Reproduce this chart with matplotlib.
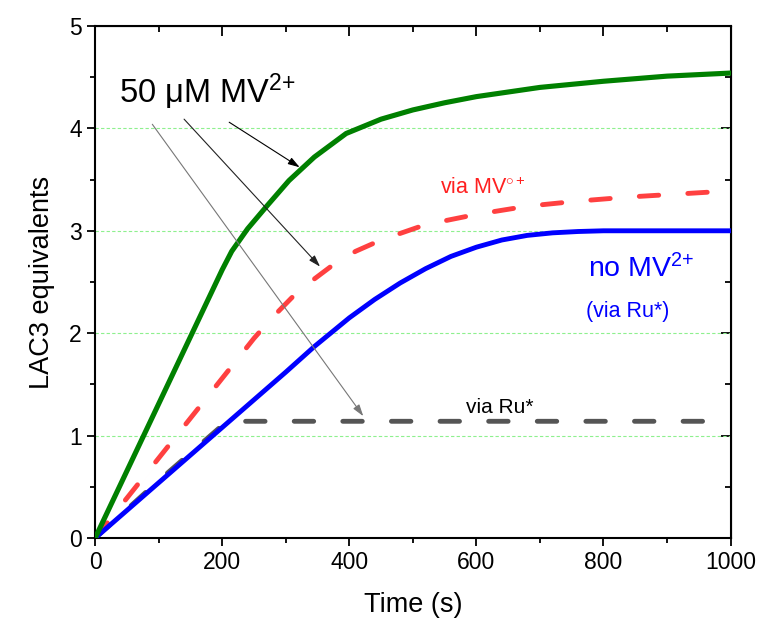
import numpy as np
import matplotlib.pyplot as plt
from matplotlib.ticker import MultipleLocator

plt.rcParams['font.family'] = ['Liberation Sans', 'DejaVu Sans']
plt.rcParams['mathtext.fontset'] = 'custom'
plt.rcParams['mathtext.rm'] = 'Liberation Sans'
plt.rcParams['mathtext.it'] = 'Liberation Sans'

# time (s) and LAC3 equivalents
t_green = [0, 100, 200, 215, 240, 270, 305, 345, 395, 450, 500, 550, 600, 700, 800, 900, 1000]
y_green = [0, 1.31, 2.62, 2.8, 3.02, 3.24, 3.49, 3.72, 3.95, 4.09, 4.18, 4.25, 4.31, 4.40, 4.46, 4.51, 4.54]

t_red = [0, 50, 100, 150, 200, 250, 280, 310, 345, 375, 410, 450, 520, 600, 680, 760, 840, 920, 1000]
y_red = [0, 0.39, 0.78, 1.17, 1.56, 1.95, 2.16, 2.35, 2.53, 2.67, 2.8, 2.91, 3.06, 3.16, 3.24, 3.29, 3.33, 3.36, 3.39]

t_blue = [0, 100, 200, 300, 345, 400, 440, 480, 520, 560, 600, 640, 680, 720, 760, 800, 1000]
y_blue = [0, 0.54, 1.08, 1.62, 1.87, 2.15, 2.33, 2.49, 2.63, 2.75, 2.84, 2.91, 2.955, 2.98, 2.993, 3.0, 3.0]

t_grey = [0, 100, 200, 210, 1000]
y_grey = [0, 0.56, 1.1, 1.14, 1.14]

fig = plt.figure(figsize=(7.61, 6.33), dpi=100)
ax = fig.add_axes([0.125, 0.150, 0.835, 0.809])

for g in [1, 2, 3, 4]:
    ax.axhline(g, color='#8ef08e', lw=0.8, ls=(0, (3, 2)), zorder=1)

ax.plot(t_grey, y_grey, color='#555555', lw=3.5, dashes=(4, 6), dash_capstyle='round', zorder=2)
ax.plot(t_red, y_red, color='#ff4040', lw=3.5, dashes=(4, 6), dash_capstyle='round', zorder=3)
ax.plot(t_blue, y_blue, color='#0000ff', lw=3.5, zorder=4)
ax.plot(t_green, y_green, color='#008000', lw=3.7, zorder=5)

ax.set_xlim(0, 1000)
ax.set_ylim(0, 5)
ax.xaxis.set_major_locator(MultipleLocator(200))
ax.xaxis.set_minor_locator(MultipleLocator(100))
ax.yaxis.set_major_locator(MultipleLocator(1))
ax.yaxis.set_minor_locator(MultipleLocator(0.5))
ax.tick_params(which='major', direction='out', length=6, width=1.3, labelsize=16.5)
ax.tick_params(which='minor', direction='out', length=3.5, width=1.3)
for s in ax.spines.values():
    s.set_linewidth(1.5)

# inward ticks on top and right
top = ax.secondary_xaxis('top')
top.xaxis.set_major_locator(MultipleLocator(200))
top.xaxis.set_minor_locator(MultipleLocator(100))
top.tick_params(which='major', direction='in', length=7, width=1.3, labeltop=False)
top.tick_params(which='minor', direction='in', length=4, width=1.3)
right = ax.secondary_yaxis('right')
right.yaxis.set_major_locator(MultipleLocator(1))
right.yaxis.set_minor_locator(MultipleLocator(0.5))
right.tick_params(which='major', direction='in', length=7, width=1.3, labelright=False)
right.tick_params(which='minor', direction='in', length=4, width=1.3)

ax.set_xlabel('Time (s)', fontsize=19.5, labelpad=13)
ax.set_ylabel('LAC3 equivalents', fontsize=19.5, labelpad=10)

ax.text(38, 4.25, r'50 μM MV$^{2{+}}$', fontsize=23.5, ha='left', va='baseline')
ax.text(543, 3.36, r'via MV$^{\circ\,{+}}$', fontsize=15.5, color='#ff2020', ha='left', va='baseline')
ax.text(775, 2.55, r'no MV$^{2{+}}$', fontsize=20.5, color='#0000ff', ha='left', va='baseline')
ax.text(773, 2.16, '(via Ru*)', fontsize=15.5, color='#0000ff', ha='left', va='baseline')
ax.text(584, 1.22, 'via Ru*', fontsize=15, color='black', ha='left', va='baseline')

arrows = [((211, 4.06), (322, 3.62), 'black'),
          ((140, 4.09), (354, 2.65), '#222222'),
          ((90, 4.04), (422, 1.19), '#777777')]
for start, end, c in arrows:
    ax.annotate('', xy=end, xytext=start, zorder=6,
                arrowprops=dict(arrowstyle='-|>,head_length=0.7,head_width=0.22',
                                color=c, lw=0.8, shrinkA=0, shrinkB=0))

fig.savefig('out.png', dpi=100)
